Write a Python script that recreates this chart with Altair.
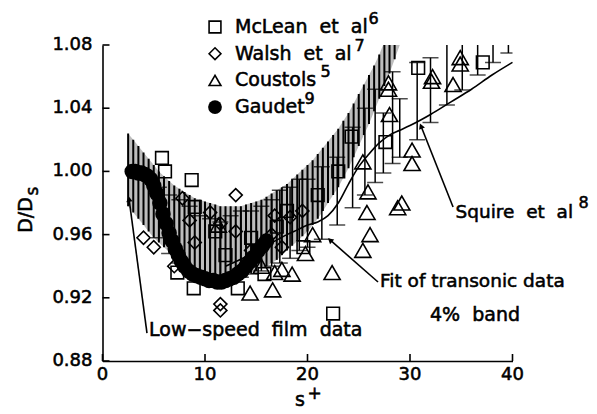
import altair as alt
import pandas as pd

FONT = "DejaVu Sans"
W, H = 410, 316

# ---------------- data ----------------
x_ticks = [0, 10, 20, 30, 40]
y_ticks = [0.88, 0.92, 0.96, 1.00, 1.04, 1.08]

# hatched 4% band
band_x = [2.5, 3.0, 3.5, 4.0, 4.5, 5.0, 5.5, 6.0, 6.5, 7.0, 7.5, 8.0, 8.5, 9.0,
          9.5, 10.0, 10.5, 11.0, 11.5, 12.0, 12.5, 13.0, 13.5, 14.0, 14.5, 15.0,
          15.5, 16.0, 16.5, 17.0, 17.5, 18.0, 18.5, 19.0, 19.5, 20.0, 20.5, 21.0,
          21.5, 22.0, 22.5, 23.0, 23.5, 24.0, 24.5, 25.0, 25.5, 26.0, 26.5, 27.0,
          27.5, 28.0, 28.5, 29.0]
band_upper = [1.024, 1.020, 1.016, 1.012, 1.008, 1.004, 1.000, 0.997, 0.994, 0.991,
              0.989, 0.987, 0.985, 0.983, 0.982, 0.981, 0.980, 0.979, 0.978, 0.978,
              0.978, 0.978, 0.978, 0.979, 0.980, 0.981, 0.982, 0.984, 0.986, 0.988,
              0.990, 0.992, 0.995, 0.998, 1.001, 1.004, 1.007, 1.011, 1.015, 1.019,
              1.023, 1.027, 1.032, 1.037, 1.043, 1.049, 1.055, 1.061, 1.067, 1.074,
              1.082, 1.090, 1.090, 1.090]
band_lower = [0.978, 0.974, 0.970, 0.966, 0.962, 0.958, 0.955, 0.952, 0.949, 0.946,
              0.944, 0.942, 0.940, 0.938, 0.937, 0.936, 0.935, 0.935, 0.934, 0.934,
              0.934, 0.934, 0.935, 0.935, 0.936, 0.937, 0.939, 0.940, 0.942, 0.944,
              0.947, 0.950, 0.953, 0.956, 0.959, 0.962, 0.966, 0.970, 0.975, 0.980,
              0.985, 0.990, 0.996, 1.002, 1.009, 1.016, 1.023, 1.030, 1.038, 1.046,
              1.054, 1.062, 1.071, 1.080]

# Gaudet (filled circles)
gaudet_x = [2.9, 3.2, 3.5, 3.8, 4.1, 4.4, 4.7, 5.0, 5.3, 5.6, 5.9, 6.2, 6.5, 6.8,
            7.1, 7.4, 7.7, 8.0, 8.4, 8.8, 9.2, 9.6, 10.0, 10.4, 10.8, 11.2, 11.6,
            12.0, 12.4, 12.8, 13.2, 13.6, 14.0, 14.4, 14.8, 15.2, 15.6, 16.0]
gaudet_y = [1.000, 1.000, 0.999, 0.999, 0.998, 0.997, 0.995, 0.991, 0.986, 0.980,
            0.973, 0.967, 0.961, 0.956, 0.951, 0.947, 0.943, 0.940, 0.937, 0.935,
            0.934, 0.933, 0.932, 0.931, 0.931, 0.930, 0.930, 0.931, 0.932, 0.933,
            0.935, 0.937, 0.940, 0.943, 0.946, 0.950, 0.953, 0.956]

# McLean et al (open squares)
mclean_x = [5.8, 6.1, 8.7, 9.0, 7.3, 8.9, 13.2, 22.5, 30.8, 37.1, 27.6, 19.6,
            11.0, 14.5, 17.0, 18.0, 21.0, 23.0, 15.8, 12.0, 24.3]
mclean_y = [1.0085, 1.000, 0.9945, 0.9775, 0.936, 0.926, 0.926, 0.910, 1.0655, 1.069,
            1.0186, 0.952, 0.962, 0.958, 0.965, 0.975, 0.985, 1.000, 0.935, 0.947, 1.022]

# Walsh et al (open diamonds)
walsh_x = [13.0, 5.0, 11.5, 11.5, 4.0, 7.8, 10.5, 8.5, 11.5, 18.3, 16.8, 9.0,
           13.0, 16.5, 17.5, 19.5, 7.0, 14.5]
walsh_y = [0.985, 0.952, 0.916, 0.912, 0.958, 0.983, 0.974, 0.969, 0.967, 0.971,
           0.972, 0.955, 0.962, 0.960, 0.952, 0.975, 0.940, 0.950]

# Coustols (open triangles)
coustols_x = [22.4, 25.4, 26.1, 25.8, 29.2, 28.8, 25.4, 25.9, 30.2, 30.2, 28.0,
              27.9, 27.9, 19.8, 16.6, 16.8, 14.4, 32.2, 34.2, 34.9, 34.9, 11.3,
              17.5, 18.5, 15.5, 20.5, 32.1]
coustols_y = [0.936, 0.950, 0.960, 0.974, 0.980, 0.977, 1.006, 0.987, 1.0135, 1.005,
              1.036, 1.056, 1.052, 0.948, 0.925, 0.936, 0.923, 1.060, 1.055, 1.072,
              1.068, 0.966, 0.938, 0.935, 0.940, 0.960, 1.057]

# transonic data error bars
err_x = [5.5, 6.5, 7.5, 8.5, 9.5, 10.5, 11.5, 12.5, 13.5, 14.5, 15.5, 16.5, 17.3,
         18.3, 19.2, 20.0, 21.4, 22.9, 24.4, 25.6, 26.6, 27.4, 28.3, 29.0, 30.7,
         32.0, 33.6, 35.1, 36.6, 38.1, 39.6]
err_lo = [0.958, 0.948, 0.942, 0.938, 0.935, 0.933, 0.931, 0.930, 0.933, 0.935,
          0.937, 0.940, 0.942, 0.945, 0.950, 0.952, 0.957, 0.966, 0.977, 0.985,
          0.993, 0.999, 1.005, 1.009, 1.020, 1.031, 1.042, 1.0515, 1.061, 1.069, 1.075]
err_hi = [0.990, 0.985, 0.982, 0.978, 0.972, 0.970, 0.968, 0.972, 0.975, 0.975,
          0.978, 0.982, 0.988, 0.990, 0.995, 0.995, 1.003, 1.009, 1.028, 1.040,
          1.052, 1.037, 1.063, 1.046, 1.069, 1.072, 1.095, 1.095, 1.095, 1.095, 1.095]

# Squire et al curve
squire_x = [12, 14, 16, 18, 19, 20, 21, 22, 23, 24, 25, 26, 27, 28, 29, 30, 32,
            34, 36, 38, 40]
squire_y = [0.940, 0.946, 0.953, 0.960, 0.963, 0.966, 0.968, 0.972, 0.980, 0.992,
            1.003, 1.011, 1.018, 1.023, 1.026, 1.029, 1.036, 1.044, 1.052, 1.061, 1.069]

legend_names = ["McLean\u00a0\u00a0et\u00a0\u00a0al", "Walsh\u00a0\u00a0et\u00a0\u00a0al",
                "Coustols", "Gaudet"]
legend_sups = ["6", "7", "5", "9"]
legend_shapes = ["square", "diamond", "triangle-up", "circle"]

# leader lines of annotations (start -> arrow tip), data units
lead_x = [4.34, 26.88, 34.2]
lead_y = [0.8977, 0.930, 0.9775]
tip_x = [2.59, 22.2, 31.07]
tip_y = [0.9825, 0.9566, 1.0287]
tip_angle = [352, 311, 338]

# ---------------- chart ----------------
TXT = dict(font=FONT, color="black", stroke="black", strokeWidth=0.55)

xs = alt.Scale(domain=[0, 40], nice=False, zero=False)
ys = alt.Scale(domain=[0.88, 1.08], nice=False, zero=False)
xaxis = alt.Axis(values=x_ticks, ticks=False, grid=False, labels=False,
                 domainColor="black", domainWidth=1.6, title=None)
yaxis = alt.Axis(values=y_ticks, ticks=False, grid=False, labels=False,
                 domainColor="black", domainWidth=1.6, title=None)


def X(f):
    return alt.X(f, type="quantitative", scale=xs, axis=xaxis)


def Y(f):
    return alt.Y(f, type="quantitative", scale=ys, axis=yaxis)


band = pd.DataFrame({"x": band_x, "lo": band_lower, "hi": band_upper})
band_fill = alt.Chart(band).mark_area(color="#bdbdbd", clip=True, opacity=1).encode(
    x=X("x"), y=Y("lo"), y2="hi")
band_layer = alt.Chart(band).mark_rule(color="black", strokeWidth=2.0, clip=True).encode(
    x=X("x"), y=Y("lo"), y2="hi")

err = pd.DataFrame({"x": err_x, "lo": err_lo, "hi": err_hi})
err_rule = alt.Chart(err).mark_rule(color="black", strokeWidth=1.5, clip=True).encode(
    x=X("x"), y=Y("lo"), y2="hi")
err_cap_lo = alt.Chart(err).mark_tick(color="black", orient="horizontal", size=16,
                                      thickness=1.5, clip=True).encode(x=X("x"), y=Y("lo"))
err_cap_hi = alt.Chart(err).mark_tick(color="black", orient="horizontal", size=16,
                                      thickness=1.5, clip=True).encode(x=X("x"), y=Y("hi"))

squire = pd.DataFrame({"x": squire_x, "y": squire_y})
squire_layer = alt.Chart(squire).mark_line(color="black", strokeWidth=1.6,
                                           interpolate="monotone").encode(x=X("x"), y=Y("y"))


def open_pts(xv, yv, shape, size):
    df = pd.DataFrame({"x": xv, "y": yv})
    return alt.Chart(df).mark_point(shape=shape, size=size, filled=False, color="black",
                                    strokeWidth=1.6, opacity=1, clip=True).encode(
        x=X("x"), y=Y("y"))


mclean_layer = open_pts(mclean_x, mclean_y, "square", 160)
walsh_layer = open_pts(walsh_x, walsh_y, "diamond", 170)
coustols_layer = open_pts(coustols_x, coustols_y, "triangle-up", 260)

gaudet = pd.DataFrame({"x": gaudet_x, "y": gaudet_y})
gaudet_layer = alt.Chart(gaudet).mark_point(shape="circle", size=240, filled=True,
                                            color="black", opacity=1).encode(
    x=X("x"), y=Y("y"))

# inward ticks and tick labels
xt = pd.DataFrame({"t": x_ticks, "lab": [str(v) for v in x_ticks]})
xtick_layer = alt.Chart(xt).mark_rule(color="black", strokeWidth=1.6).encode(
    x=X("t"), y=alt.value(H), y2=alt.value(H - 7))
xlab_layer = alt.Chart(xt).mark_text(align="center", baseline="middle", fontSize=18,
                                     **TXT).encode(x=X("t"), y=alt.value(H + 14), text="lab:N")
yt = pd.DataFrame({"t": y_ticks, "lab": [f"{v:.2f}" for v in y_ticks]})
ytick_layer = alt.Chart(yt).mark_rule(color="black", strokeWidth=1.6).encode(
    y=Y("t"), x=alt.value(0), x2=alt.value(7))
ylab_layer = alt.Chart(yt).mark_text(align="right", baseline="middle", fontSize=18,
                                     **TXT).encode(y=Y("t"), x=alt.value(-10), text="lab:N")

# leader lines and arrow heads
leads = pd.DataFrame({"x": lead_x, "y": lead_y, "x2": tip_x, "y2": tip_y, "a": tip_angle})
lead_layer = alt.Chart(leads).mark_rule(color="black", strokeWidth=1.6).encode(
    x=X("x"), y=Y("y"), x2="x2", y2="y2")
arrow_layer = alt.Chart(leads).mark_point(shape="triangle-up", size=40, filled=True,
                                          color="black", opacity=1).encode(
    x=X("x2"), y=Y("y2"), angle=alt.Angle("a:Q", scale=None))

# legend
leg = pd.DataFrame({"name": legend_names, "sup": legend_sups, "shape": legend_shapes})
leg["row"] = range(len(leg))
leg["ly"] = leg["row"] * 26.7 - 18
leg["sx"] = [266, 252, 218, 202]
leg_open = alt.Chart(leg).transform_filter("datum.shape != 'circle'").mark_point(
    filled=False, color="black", strokeWidth=1.6, size=140, opacity=1).encode(
    x=alt.value(112.5), y=alt.Y("ly:Q", scale=None, axis=None),
    shape=alt.Shape("shape:N", scale=None, legend=None))
leg_dot = alt.Chart(leg).transform_filter("datum.shape == 'circle'").mark_point(
    filled=True, color="black", size=190, opacity=1, shape="circle").encode(
    x=alt.value(112.5), y=alt.Y("ly:Q", scale=None, axis=None))
leg_text = alt.Chart(leg).mark_text(align="left", baseline="middle", fontSize=19,
                                    **TXT).encode(
    x=alt.value(132.5), y=alt.Y("ly:Q", scale=None, axis=None), text="name:N")
leg_sup = alt.Chart(leg).mark_text(align="left", baseline="middle", fontSize=16,
                                   dy=-8, **TXT).encode(
    x=alt.X("sx:Q", scale=None, axis=None), y=alt.Y("ly:Q", scale=None, axis=None),
    text="sup:N")


def label(text, x, y, size=19, align="left", angle=0):
    return alt.Chart(pd.DataFrame({"t": [text]})).mark_text(
        align=align, baseline="middle", fontSize=size, angle=angle, **TXT).encode(
        x=alt.value(x), y=alt.value(y), text="t:N")


texts = [
    label("Low\u2212speed\u00a0\u00a0film\u00a0\u00a0data", 46.5, 285),
    label("Fit of transonic data", 277.5, 236, size=18.5),
    label("4%\u00a0\u00a0band", 327.5, 270),
    label("Squire\u00a0\u00a0et\u00a0\u00a0al", 353, 167, size=18.5),
    label("8", 476, 158, size=16),
    label("D/D", -76.5, 170, align="center", angle=270),
    label("s", -70, 146, size=17, align="center", angle=270),
    label("s", 197.5, 355, align="center"),
    label("+", 212, 349, size=17, align="center"),
]

chart = alt.layer(
    band_fill, band_layer, err_rule, err_cap_lo, err_cap_hi, squire_layer,
    mclean_layer, walsh_layer, coustols_layer, gaudet_layer,
    xtick_layer, ytick_layer, xlab_layer, ylab_layer, lead_layer, arrow_layer,
    leg_open, leg_dot, leg_text, leg_sup, *texts
).properties(
    width=W, height=H,
    autosize=alt.AutoSizeParams(type="none"),
    padding={"left": 94.5, "top": 37, "right": 76.5, "bottom": 51},
    background="white",
).configure_view(stroke=None)

chart.save("out.html", embed_options={"renderer": "svg", "actions": False})
